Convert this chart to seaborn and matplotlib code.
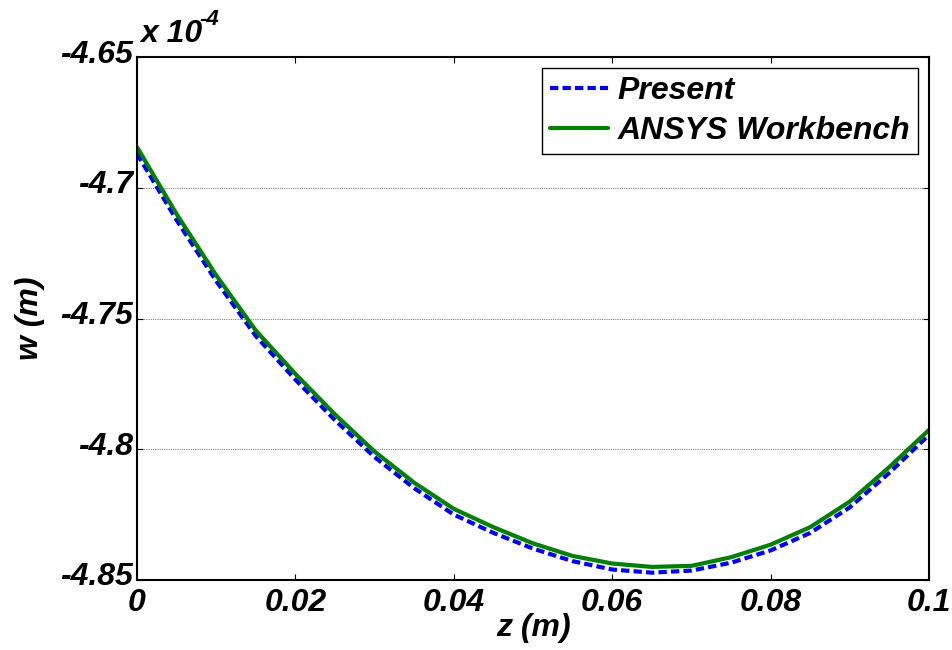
import numpy as np
import pandas as pd
import matplotlib
matplotlib.use("Agg")
import matplotlib.pyplot as plt
import matplotlib.transforms as mtransforms
import seaborn as sns
from matplotlib.lines import Line2D

# ---- data (w in units of 1e-4 m) ----
z = [0.000, 0.005, 0.010, 0.015, 0.020, 0.025, 0.030, 0.035, 0.040, 0.045, 0.050,
     0.055, 0.060, 0.065, 0.070, 0.075, 0.080, 0.085, 0.090, 0.095, 0.100]
w_present = [-4.6870, -4.7124, -4.7357, -4.7567, -4.7734, -4.7889, -4.8030, -4.8149,
             -4.8250, -4.8320, -4.8380, -4.8428, -4.8460, -4.8472, -4.8464, -4.8434,
             -4.8387, -4.8320, -4.8222, -4.8090, -4.7945]
w_ansys = [-4.6845, -4.7101, -4.7335, -4.7546, -4.7712, -4.7867, -4.8009, -4.8128,
           -4.8228, -4.8298, -4.8360, -4.8408, -4.8437, -4.8450, -4.8446, -4.8413,
           -4.8365, -4.8298, -4.8200, -4.8068, -4.7926]
series_names = ["Present", "ANSYS Workbench"]
x_ticks = [0, 0.02, 0.04, 0.06, 0.08, 0.1]
x_tick_labels = ["0", "0.02", "0.04", "0.06", "0.08", "0.1"]
y_ticks = [-4.85, -4.8, -4.75, -4.7, -4.65]
y_tick_labels = ["-4.85", "-4.8", "-4.75", "-4.7", "-4.65"]

df = pd.DataFrame({
    "z": z + z,
    "w": w_present + w_ansys,
    "series": [series_names[0]] * len(z) + [series_names[1]] * len(z),
})

sns.set_style("white")
plt.rcParams["font.family"] = ["Liberation Sans", "DejaVu Sans"]
plt.rcParams["font.weight"] = "bold"
plt.rcParams["font.style"] = "italic"
plt.rcParams["text.color"] = "black"
plt.rcParams["axes.labelcolor"] = "black"
plt.rcParams["xtick.color"] = "black"
plt.rcParams["ytick.color"] = "black"

fig = plt.figure(figsize=(9.53, 6.5), dpi=100)
ax = fig.add_axes([0.1438, 0.1077, 0.8310, 0.8046])

sns.lineplot(data=df, x="z", y="w", hue="series", style="series",
             palette={series_names[0]: "#0000FF", series_names[1]: "#008000"},
             dashes={series_names[0]: (2, 1), series_names[1]: ""},
             linewidth=3, ax=ax, legend=False)

ax.set_xlim(0, 0.1)
ax.set_ylim(-4.85, -4.65)
ax.set_xticks(x_ticks)
ax.set_xticklabels(x_tick_labels)
ax.set_yticks(y_ticks)
ax.set_yticklabels(y_tick_labels)

fs = 23
ax.tick_params(direction="in", length=4, width=0.8, top=True, right=True,
               bottom=True, left=True, colors="black")
ax.tick_params(axis="x", pad=6)
ax.tick_params(axis="y", pad=3)

for lab in ax.get_xticklabels() + ax.get_yticklabels():
    lab.set_fontsize(fs)
    lab.set_fontweight("bold")
    lab.set_fontstyle("italic")
    lab.set_color("black")

# MATLAB places y tick labels slightly above the tick
shift = mtransforms.ScaledTranslation(0, 6 / 100, fig.dpi_scale_trans)
for tick in ax.yaxis.get_major_ticks():
    tick.label1.set_transform(tick.label1.get_transform() + shift)

for y in [-4.8, -4.75, -4.7]:
    ax.axhline(y, color="#808080", lw=0.8, ls=(0, (1, 1)), zorder=0)

for s in ax.spines.values():
    s.set_color("black")
    s.set_linewidth(1.5)

ax.set_xlabel("z (m)", fontsize=fs, fontweight="bold", fontstyle="italic",
              labelpad=-4, color="black")
ax.set_ylabel("w (m)", fontsize=fs, fontweight="bold", fontstyle="italic",
              labelpad=11, color="black")

fig.text(0.147, 0.935, "x 10", fontsize=fs, fontweight="bold",
         fontstyle="italic", ha="left", va="baseline", color="black")
fig.text(0.209, 0.962, "-4", fontsize=16, fontweight="bold",
         fontstyle="italic", ha="left", va="baseline", color="black")

handles = [Line2D([], [], color="#0000FF", lw=3, ls=(0, (2, 1))),
           Line2D([], [], color="#008000", lw=3)]
leg = ax.legend(handles, series_names, loc="upper right", frameon=True,
                fancybox=False, edgecolor="black", framealpha=1,
                prop=dict(size=fs, weight="bold", style="italic"),
                handlelength=1.8, handletextpad=0.3, borderpad=0.25,
                labelspacing=0.3, borderaxespad=0.35)
leg.get_frame().set_linewidth(1.0)
for t in leg.get_texts():
    t.set_color("black")

fig.savefig("out.png", dpi=100)
